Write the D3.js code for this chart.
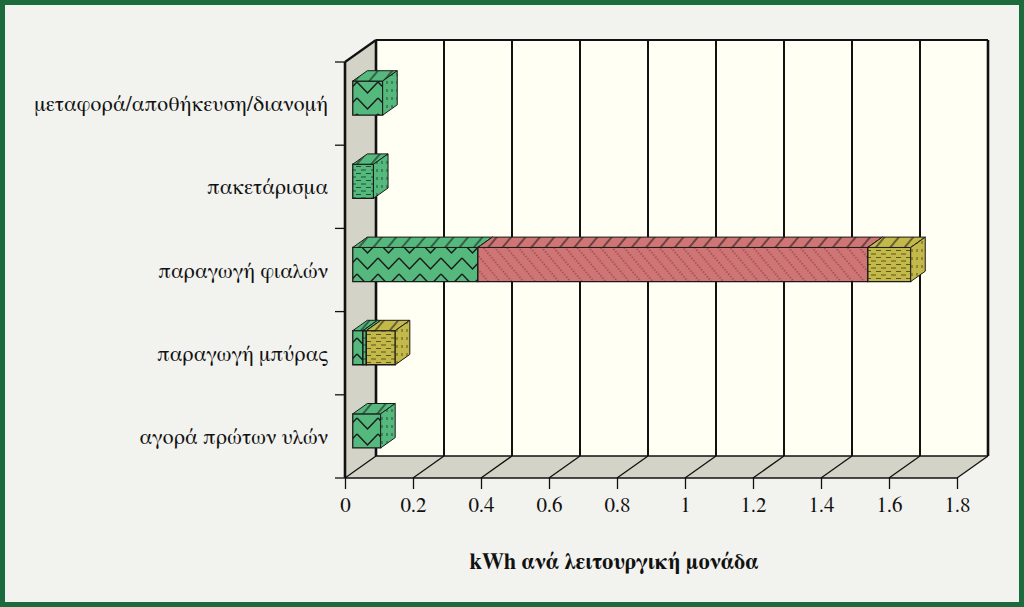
<!DOCTYPE html>
<html>
<head>
<meta charset="utf-8">
<script src="https://cdn.jsdelivr.net/npm/d3@7"></script>
<style>
  html, body { margin: 0; padding: 0; background: #f2f2ee; }
  svg { display: block; }
</style>
</head>
<body>
<div id="chart"></div>
<script>
// categories from bottom to top
const categories = [
    "αγορά πρώτων υλών",
    "παραγωγή μπύρας",
    "παραγωγή φιαλών",
    "πακετάρισμα",
    "μεταφορά/αποθήκευση/διανομή"
];

// stacked series, same order as categories
const seriesNames = ["σειρά 1", "σειρά 2", "σειρά 3", "σειρά 4"];
const series1 = [0.082, 0.030, 0.368, 0.000, 0.088];
const series2 = [0.000, 0.010, 0.000, 0.061, 0.000];
const series3 = [0.000, 0.000, 1.147, 0.000, 0.000];
const series4 = [0.000, 0.085, 0.126, 0.000, 0.000];

const xTicks = [0, 0.2, 0.4, 0.6, 0.8, 1, 1.2, 1.4, 1.6, 1.8];
const xTitle = "kWh ανά λειτουργική μονάδα";

const width = 1024, height = 607;
// Liberation Serif has no Greek here; FreeSerif does and looks like Times
const serif = "'FreeSerif', 'Liberation Serif', serif";

const svg = d3.select("#chart")
    .append("svg")
    .attr("width", width)
    .attr("height", height);

// frame
svg.append("rect")
    .attr("x", 2.5).attr("y", 2.5)
    .attr("width", width - 5).attr("height", height - 5)
    .attr("fill", "#f2f2ee")
    .attr("stroke", "#1b6b3c")
    .attr("stroke-width", 5);

// front plane scales + depth vector
const x = d3.scaleLinear().domain([0, 1.8]).range([345, 957]);
const y = d3.scaleBand()
    .domain(categories.slice().reverse())
    .range([62, 478])
    .paddingInner(0).paddingOuter(0);
const depth = { dx: 31, dy: -22 };

// project value/y/depth(0..1) to screen
const P = (v, yy, z) => [x(v) + z * depth.dx, yy + z * depth.dy];

const defs = svg.append("defs");

const colors = ["#55b87c", "#55b87c", "#cf7575", "#c3b94b"];
const inkColors = ["#1a1a1a", "#1d5233", "#7b2c2c", "#5e5518"];

// face patterns
function zigzag(id, fill) {
    const p = defs.append("pattern").attr("id", id)
        .attr("patternUnits", "userSpaceOnUse")
        .attr("width", 21).attr("height", 16)
        .attr("y", 1);
    p.append("rect").attr("width", 21).attr("height", 16).attr("fill", fill);
    p.append("path").attr("d", "M0,1 L10.5,12 L21,1")
        .attr("fill", "none").attr("stroke", "#1a1a1a").attr("stroke-width", 1.5);
}
function dashes(id, fill, ink) {
    const p = defs.append("pattern").attr("id", id)
        .attr("patternUnits", "userSpaceOnUse")
        .attr("width", 10).attr("height", 7);
    p.append("rect").attr("width", 10).attr("height", 7).attr("fill", fill);
    p.append("path").attr("d", "M1,2 H6 M6,5.5 H11 M-4,5.5 H1")
        .attr("stroke", ink).attr("stroke-width", 1.2);
}
function dotted(id, fill, ink) {
    const p = defs.append("pattern").attr("id", id)
        .attr("patternUnits", "userSpaceOnUse")
        .attr("width", 9).attr("height", 9)
        .attr("patternTransform", "rotate(-40)");
    p.append("rect").attr("width", 9).attr("height", 9).attr("fill", fill);
    p.append("line").attr("x1", 4).attr("x2", 4).attr("y1", 0).attr("y2", 9)
        .attr("stroke", ink).attr("stroke-width", 1.1)
        .attr("stroke-dasharray", "1.3,1.7");
}
function hatch(id, fill) {
    const p = defs.append("pattern").attr("id", id)
        .attr("patternUnits", "userSpaceOnUse")
        .attr("width", 11).attr("height", 11)
        .attr("patternTransform", "rotate(40)");
    p.append("rect").attr("width", 11).attr("height", 11).attr("fill", fill);
    p.append("line").attr("x1", 5).attr("x2", 5).attr("y1", 0).attr("y2", 11)
        .attr("stroke", "#1a1a1a").attr("stroke-width", 1.1);
}
function vdash(id, fill, ink) {
    const p = defs.append("pattern").attr("id", id)
        .attr("patternUnits", "userSpaceOnUse")
        .attr("width", 5).attr("height", 8);
    p.append("rect").attr("width", 5).attr("height", 8).attr("fill", fill);
    p.append("path").attr("d", "M2,1 V4")
        .attr("stroke", ink).attr("stroke-width", 1);
}

zigzag("front0", colors[0]);
dashes("front1", colors[1], inkColors[1]);
dotted("front2", colors[2], inkColors[2]);
dashes("front3", colors[3], inkColors[3]);
colors.forEach((c, i) => {
    hatch("top" + i, c);
    vdash("side" + i, c, inkColors[i] === "#1a1a1a" ? "#1d5233" : inkColors[i]);
});

// walls
const wallFill = "#d3d3c8";
const backFill = "#fffff4";
const y0 = y.range()[0], y1 = y.range()[1];
const pts = a => a.map(p => p.join(",")).join(" ");

// back wall
svg.append("polygon")
    .attr("points", pts([P(0, y0, 1), P(1.8, y0, 1), P(1.8, y1, 1), P(0, y1, 1)]))
    .attr("fill", backFill).attr("stroke", "none");
// side wall
svg.append("polygon")
    .attr("points", pts([P(0, y0, 0), P(0, y0, 1), P(0, y1, 1), P(0, y1, 0)]))
    .attr("fill", wallFill).attr("stroke", "none");
// floor
svg.append("polygon")
    .attr("points", pts([P(0, y1, 0), P(1.8, y1, 0), P(1.8, y1, 1), P(0, y1, 1)]))
    .attr("fill", wallFill).attr("stroke", "none");

// gridlines on back wall and floor
const grid = svg.append("g");
xTicks.forEach(t => {
    const a = P(t, y0, 1), b = P(t, y1, 1), c = P(t, y1, 0);
    grid.append("line")
        .attr("x1", a[0]).attr("y1", a[1]).attr("x2", b[0]).attr("y2", b[1])
        .attr("stroke", "#111").attr("stroke-width", t === 0 || t === 1.8 ? 2.6 : 2);
    grid.append("line")
        .attr("x1", b[0]).attr("y1", b[1]).attr("x2", c[0]).attr("y2", c[1])
        .attr("stroke", "#111").attr("stroke-width", 1.3);
});
// edges
const edge = (p, q, w) => svg.append("line")
    .attr("x1", p[0]).attr("y1", p[1]).attr("x2", q[0]).attr("y2", q[1])
    .attr("stroke", "#111").attr("stroke-width", w);
edge(P(0, y0, 1), P(1.8, y0, 1), 2.2);
edge(P(0, y1, 1), P(1.8, y1, 1), 1.3);
edge(P(0, y0, 0), P(0, y0, 1), 2.2);
edge(P(0, y0, 0), P(0, y1, 0), 2.6);
edge(P(0, y1, 0), P(1.8, y1, 0), 1.5);

// axis ticks
const axX = d3.axisBottom(x).tickValues(xTicks).tickSize(11).tickPadding(8)
    .tickFormat(d => String(d));
const gx = svg.append("g").attr("transform", `translate(0,${y1})`).call(axX);
gx.select(".domain").remove();
gx.selectAll(".tick line").attr("stroke", "#111").attr("stroke-width", 1.3);
gx.selectAll("text")
    .style("font-family", serif)
    .style("font-size", "21px").attr("fill", "#111");

// category ticks at band edges
const bandEdges = y.domain().map(c => y(c)).concat([y1]);
svg.append("g").selectAll("line")
    .data(bandEdges).join("line")
    .attr("x1", x(0) - 10).attr("x2", x(0))
    .attr("y1", d => d).attr("y2", d => d)
    .attr("stroke", "#111").attr("stroke-width", 1.3);

const catLabels = svg.append("g").selectAll("text")
    .data(categories).join("text")
    .attr("x", x(0) - 17)
    .attr("y", d => y(d) + y.bandwidth() / 2)
    .attr("dy", "0.35em")
    .attr("text-anchor", "end")
    .style("font-family", serif)
    .style("font-size", "20px")
    .attr("fill", "#111")
    .text(d => d);

// size labels so the longest one spans the same width as in the source
const longest = d3.max(catLabels.nodes(), n => n.getComputedTextLength());
catLabels.style("font-size", Math.min(24, 20 * 294 / longest) + "px");

// stacked 3D bars
const table = categories.map((c, i) => ({
    cat: c,
    [seriesNames[0]]: series1[i],
    [seriesNames[1]]: series2[i],
    [seriesNames[2]]: series3[i],
    [seriesNames[3]]: series4[i]
}));
const stacked = d3.stack().keys(seriesNames)(table);

const barH = y.bandwidth() * 0.41;
const zF = 0.25, zB = 0.72;
const bars = svg.append("g");

categories.forEach((c, ci) => {
    const yc = y(c) + y.bandwidth() / 2;
    const top = yc - barH / 2, bot = yc + barH / 2;
    stacked.forEach((s, si) => {
        const [v0, v1] = s[ci];
        if (v1 - v0 <= 0) return;
        // front
        bars.append("polygon")
            .attr("points", pts([P(v0, top, zF), P(v1, top, zF), P(v1, bot, zF), P(v0, bot, zF)]))
            .attr("fill", `url(#front${si})`)
            .attr("stroke", "#1a1a1a").attr("stroke-width", 1.3);
        // top
        bars.append("polygon")
            .attr("points", pts([P(v0, top, zF), P(v1, top, zF), P(v1, top, zB), P(v0, top, zB)]))
            .attr("fill", `url(#top${si})`)
            .attr("stroke", "#1a1a1a").attr("stroke-width", 1);
        // right side
        bars.append("polygon")
            .attr("points", pts([P(v1, top, zF), P(v1, top, zB), P(v1, bot, zB), P(v1, bot, zF)]))
            .attr("fill", `url(#side${si})`)
            .attr("stroke", "#1a1a1a").attr("stroke-width", 1);
    });
});

// axis title
const title = svg.append("text")
    .attr("x", 614).attr("y", 569)
    .attr("text-anchor", "middle")
    .style("font-family", serif)
    .style("font-weight", "bold")
    .style("font-size", "20px")
    .attr("fill", "#111")
    .text(xTitle);
const tLen = title.node().getComputedTextLength();
title.style("font-size", Math.min(24, 20 * 289 / tLen) + "px");
</script>
</body>
</html>
